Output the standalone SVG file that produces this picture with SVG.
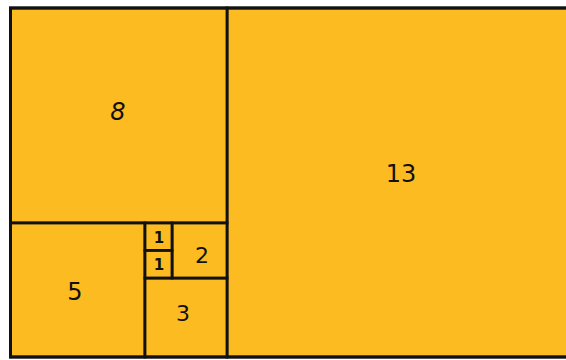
<svg xmlns="http://www.w3.org/2000/svg" width="566" height="360" viewBox="0 0 566 360">
<style>
.sq{fill:#FDBB22;stroke:#111;stroke-width:2.8}
.lb{font-family:"DejaVu Sans","Liberation Sans",sans-serif;fill:#111;text-anchor:middle;dominant-baseline:central}
</style>
<rect width="566" height="360" fill="#ffffff"/>
<g id="sq13"><rect class="sq" x="227" y="8" width="351" height="349"/><text class="lb" x="401" y="174" font-size="24">13</text></g>
<g id="sq8"><rect class="sq" x="10.5" y="8" width="216.5" height="215"/><text class="lb" x="118" y="112" font-size="24" font-style="italic">8</text></g>
<g id="sq5"><rect class="sq" x="10.5" y="223" width="134.5" height="134"/><text class="lb" x="75" y="292" font-size="24">5</text></g>
<g id="sq3"><rect class="sq" x="145" y="278" width="82" height="79"/><text class="lb" x="183" y="313" font-size="22">3</text></g>
<g id="sq2"><rect class="sq" x="172" y="223" width="55" height="55"/><text class="lb" x="202" y="255" font-size="22">2</text></g>
<g id="sq1a"><rect class="sq" x="145" y="223" width="27" height="27.5"/><text class="lb" x="159" y="237.5" font-size="15" font-weight="bold">1</text></g>
<g id="sq1b"><rect class="sq" x="145" y="250.5" width="27" height="27.5"/><text class="lb" x="159" y="265" font-size="15" font-weight="bold">1</text></g>
<g id="border"><rect x="10.5" y="8" width="568" height="349" fill="none" stroke="#111" stroke-width="3"/></g>
</svg>
